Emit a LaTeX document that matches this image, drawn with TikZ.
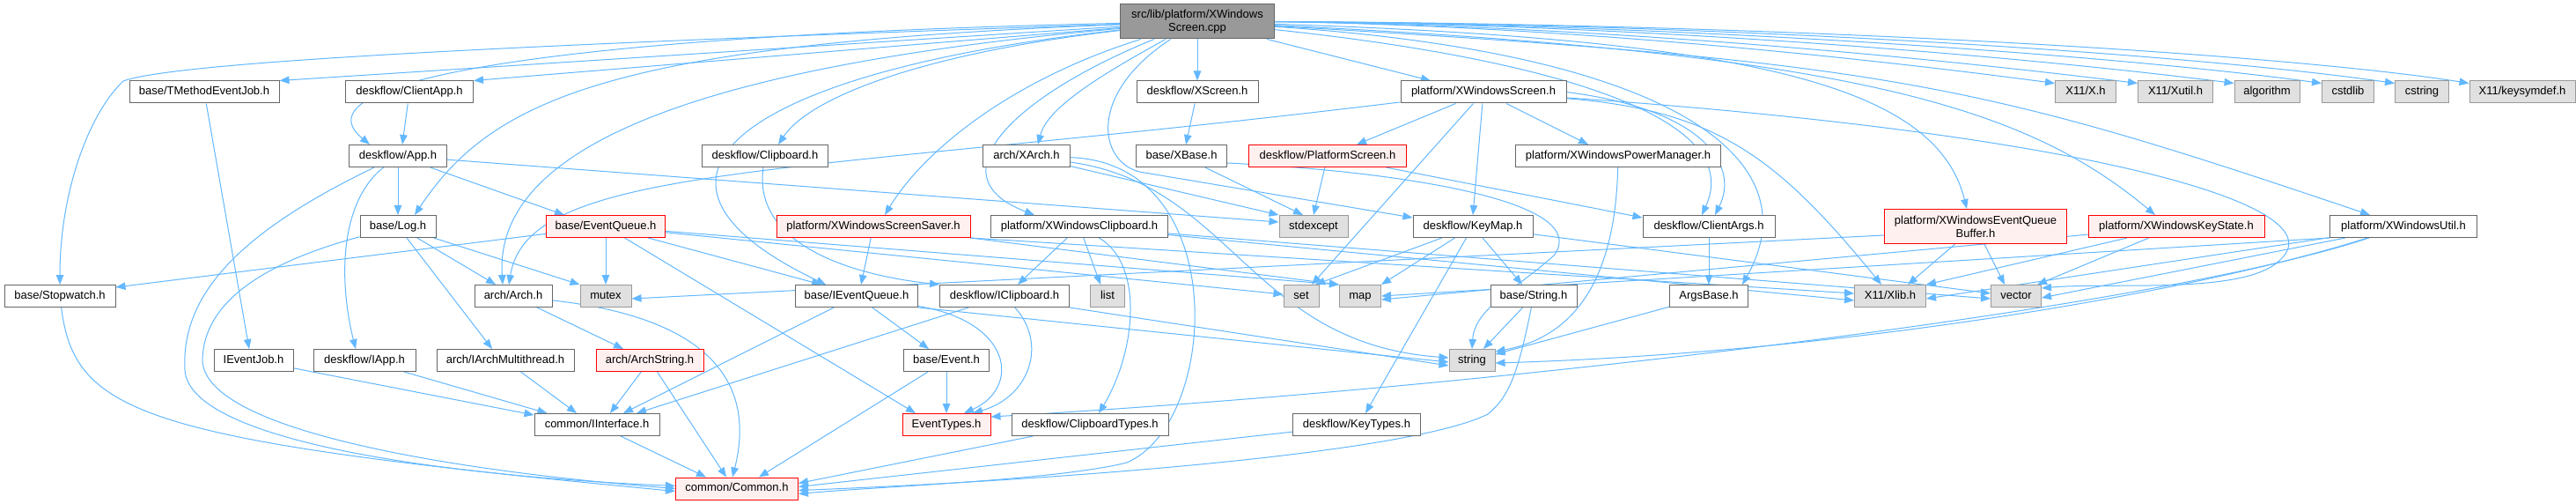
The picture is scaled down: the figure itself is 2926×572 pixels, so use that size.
\documentclass[tikz,border=0pt]{standalone}
\usepackage{fontspec}
\setmainfont{Liberation Sans}
\usetikzlibrary{arrows.meta,backgrounds}
\definecolor{EdgeBlue}{HTML}{63B8FF}
\definecolor{HdrBorder}{HTML}{666666}
\definecolor{SrcFill}{HTML}{999999}
\definecolor{SysFill}{HTML}{E0E0E0}
\definecolor{SysBorder}{HTML}{999999}
\definecolor{RedFill}{HTML}{FFF0F0}
\definecolor{RedBorder}{HTML}{FF0000}
\newcommand{\incfont}{\fontsize{13}{15}\selectfont}
\tikzset{
  hbox/.style={draw=HdrBorder, fill=white, line width=1pt, inner sep=0pt,
               minimum height=25pt, font=\incfont},
  hdr/.style={hbox, text height=9.5pt, text depth=3pt},
  syshdr/.style={hdr, draw=SysBorder, fill=SysFill},
  redhdr/.style={hdr, draw=RedBorder, fill=RedFill},
  incl/.style={color=EdgeBlue, line width=1pt, -{Triangle[length=11pt,width=8.5pt]}},
}

\begin{document}
\begin{tikzpicture}[x=1pt,y=-1pt]
  \useasboundingbox (0,0) rectangle (2926,572);
  \node[hbox, fill=SrcFill, minimum width=175pt, minimum height=39pt, align=center]
        (cpp) at (1360,24.5) {src/lib/platform/XWindows\\Screen.cpp};

  \node[hdr, minimum width=170pt] (tmej) at (232,104.5) {base/TMethodEventJob.h};
  \node[hdr, minimum width=145pt] (clientapp) at (465,104.5) {deskflow/ClientApp.h};
  \node[hdr, minimum width=138pt] (xscreen) at (1360,104.5) {deskflow/XScreen.h};
  \node[hdr, minimum width=188pt] (xwscreen) at (1685,104.5) {platform/XWindowsScreen.h};
  \node[syshdr, minimum width=69pt] (xh) at (2369,104.5) {X11/X.h};
  \node[syshdr, minimum width=85pt] (xutil) at (2471,104.5) {X11/Xutil.h};
  \node[syshdr, minimum width=74pt] (algorithm) at (2575,104.5) {algorithm};
  \node[syshdr, minimum width=59pt] (cstdlib) at (2667,104.5) {cstdlib};
  \node[syshdr, minimum width=61pt] (cstring) at (2751,104.5) {cstring};
  \node[syshdr, minimum width=120pt] (keysymdef) at (2865,104.5) {X11/keysymdef.h};

  \node[hdr, minimum width=111pt] (app) at (452,177) {deskflow/App.h};
  \node[hdr, minimum width=143pt] (clipboard) at (869,177) {deskflow/Clipboard.h};
  \node[hdr, minimum width=99pt] (xarch) at (1166,177) {arch/XArch.h};
  \node[hdr, minimum width=103pt] (xbase) at (1342,177) {base/XBase.h};
  \node[redhdr, minimum width=179pt] (platscreen) at (1508,177) {deskflow/PlatformScreen.h};
  \node[hdr, minimum width=233pt] (powermgr) at (1838,177) {platform/XWindowsPowerManager.h};

  \node[hdr, minimum width=86pt] (log) at (452,257) {base/Log.h};
  \node[redhdr, minimum width=135pt] (eventqueue) at (688,257) {base/EventQueue.h};
  \node[redhdr, minimum width=220pt] (screensaver) at (992,257) {platform/XWindowsScreenSaver.h};
  \node[hdr, minimum width=201pt] (xwclip) at (1226,257) {platform/XWindowsClipboard.h};
  \node[syshdr, minimum width=78pt] (stdexcept) at (1492,257) {stdexcept};
  \node[hdr, minimum width=136pt] (keymap) at (1673,257) {deskflow/KeyMap.h};
  \node[hdr, minimum width=150pt] (clientargs) at (1941,257) {deskflow/ClientArgs.h};
  \node[hbox, draw=RedBorder, fill=RedFill, minimum width=207pt, minimum height=39pt,
        align=center] (eqbuffer) at (2244,257) {platform/XWindowsEventQueue\\Buffer.h};
  \node[redhdr, minimum width=200pt] (keystate) at (2472,257) {platform/XWindowsKeyState.h};
  \node[hdr, minimum width=167pt] (xwutil) at (2730,257) {platform/XWindowsUtil.h};

  \node[hdr, minimum width=126pt] (stopwatch) at (68,336) {base/Stopwatch.h};
  \node[hdr, minimum width=88pt] (arch) at (583,336) {arch/Arch.h};
  \node[syshdr, minimum width=58pt] (mutex) at (688,336) {mutex};
  \node[hdr, minimum width=139pt] (ieventqueue) at (973,336) {base/IEventQueue.h};
  \node[hdr, minimum width=147pt] (iclipboard) at (1141,336) {deskflow/IClipboard.h};
  \node[syshdr, minimum width=39pt] (list) at (1258,336) {list};
  \node[syshdr, minimum width=40pt] (set) at (1478,336) {set};
  \node[syshdr, minimum width=47pt] (map) at (1545,336) {map};
  \node[hdr, minimum width=98pt] (strh) at (1742,336) {base/String.h};
  \node[hdr, minimum width=89pt] (argsbase) at (1941,336) {ArgsBase.h};
  \node[syshdr, minimum width=81pt] (xlib) at (2147,336) {X11/Xlib.h};
  \node[syshdr, minimum width=57pt] (vector) at (2290,336) {vector};

  \node[hdr, minimum width=90pt] (ieventjob) at (288,409) {IEventJob.h};
  \node[hdr, minimum width=116pt] (iapp) at (414,409) {deskflow/IApp.h};
  \node[hdr, minimum width=156pt] (iarchmt) at (574,409) {arch/IArchMultithread.h};
  \node[redhdr, minimum width=122pt] (archstring) at (738,409) {arch/ArchString.h};
  \node[hdr, minimum width=97pt] (event) at (1075,409) {base/Event.h};
  \node[syshdr, minimum width=52pt] (string) at (1672,409) {string};

  \node[hdr, minimum width=142pt] (iinterface) at (678,482) {common/IInterface.h};
  \node[redhdr, minimum width=100pt] (eventtypes) at (1075,482) {EventTypes.h};
  \node[hdr, minimum width=178pt] (cliptypes) at (1238,482) {deskflow/ClipboardTypes.h};
  \node[hdr, minimum width=145pt] (keytypes) at (1541,482) {deskflow/KeyTypes.h};

  \node[redhdr, minimum width=139pt] (common) at (837,554.5) {common/Common.h};

  \begin{scope}[on background layer]
  \fill[white] (0,0) rectangle (2926,572);
  \draw[incl] (cpp) -- (tmej.north east);
  \draw[incl] (cpp) -- (clientapp.north east);
  \draw[incl] (cpp) .. controls (640,40) and (330,90) .. ([xshift=-32pt]app.north);
  \draw[incl] (cpp) .. controls (700,50) and (560,110) .. ([xshift=19pt]log.north);
  \draw[incl] (cpp) .. controls (600,50) and (200,70) .. (140,92)
              .. controls (100,130) and (68,220) .. (stopwatch);
  \draw[incl] (cpp) .. controls (850,70) and (560,150) .. ([xshift=-12pt]arch.north);
  \draw[incl] (cpp) .. controls (1050,60) and (920,110) .. ([xshift=15pt]clipboard.north);
  \draw[incl] (cpp) .. controls (850,80) and (680,200) .. ([xshift=-35pt]ieventqueue.north);
  \draw[incl] (cpp) .. controls (1150,90) and (1050,170) .. ([xshift=13pt]screensaver.north);
  \draw[incl] (cpp) .. controls (1150,110) and (1060,200) .. ([xshift=-51pt]xwclip.north);
  \draw[incl] (cpp) .. controls (1260,80) and (1190,120) .. ([xshift=13pt]xarch.north);
  \draw[incl] (cpp) -- (xscreen);
  \draw[incl] (cpp) -- ([xshift=-60pt]xwscreen.north);
  \draw[incl] (cpp) .. controls (1230,110) and (1250,190) .. (1300,196)
              -- ([yshift=-3pt]keymap.north west);
  \draw[incl] (cpp) .. controls (1700,60) and (1990,120) .. ([xshift=-8pt]clientargs.north);
  \draw[incl] (cpp) .. controls (1900,60) and (2060,180) .. ([xshift=-7pt]argsbase.north east);
  \draw[incl] (cpp) .. controls (2000,45) and (2200,100) .. ([xshift=-10pt]eqbuffer.north);
  \draw[incl] (cpp) .. controls (2100,60) and (2300,120) .. ([xshift=-24pt]keystate.north);
  \draw[incl] (cpp) .. controls (2150,70) and (2250,95) .. ([xshift=-38pt]xwutil.north);
  \draw[incl] (cpp.east) .. controls (1800,30) and (2150,70) .. ([yshift=-3pt]xh.north west);
  \draw[incl] (cpp.east) .. controls (1850,30) and (2230,70) .. ([yshift=-3pt]xutil.north west);
  \draw[incl] (cpp.east) .. controls (1900,28) and (2330,68) .. ([yshift=-3pt]algorithm.north west);
  \draw[incl] (cpp.east) .. controls (1950,28) and (2430,66) .. ([yshift=-3pt]cstdlib.north west);
  \draw[incl] (cpp.east) .. controls (2000,27) and (2510,64) .. ([yshift=-3pt]cstring.north west);
  \draw[incl] (cpp.east) .. controls (2050,27) and (2600,62) .. ([yshift=-3pt]keysymdef.north west);

  \draw[incl] (tmej) -- ([xshift=-5pt]ieventjob.north);
  \draw[incl] (clientapp) -- ([xshift=5pt]app.north);
  \draw[incl] (app) -- (log);
  \draw[incl] (app) -- ([xshift=-47pt]eventqueue.north);
  \draw[incl] (app) .. controls (385,230) and (385,320) .. ([xshift=-10pt]iapp.north);
  \draw[incl] (app) .. controls (280,260) and (205,330) .. (210,420)
              .. controls (215,500) and (500,540) .. ([yshift=3pt]common.west);
  \draw[incl] (app) -- ([yshift=5pt]stdexcept.west);
  \draw[incl] (log) -- ([xshift=-20pt]arch.north);
  \draw[incl] (log) -- (mutex.north west);
  \draw[incl] (log) -- ([xshift=-15pt]iarchmt.north);
  \draw[incl] (log) .. controls (330,290) and (230,330) .. (230,410)
              .. controls (235,490) and (520,535) .. (common.west);
  \draw[incl] (stopwatch) .. controls (85,470) and (160,500) .. ([yshift=-3pt]common.west);
  \draw[incl] (eventqueue) -- ([yshift=-3pt]stopwatch.north east);
  \draw[incl] (eventqueue) -- (mutex);
  \draw[incl] (eventqueue) -- ([xshift=-40pt]ieventqueue.north);
  \draw[incl] (eventqueue) -- ([xshift=-35pt]eventtypes.north);
  \draw[incl] (eventqueue) -- ([yshift=2pt]set.west);
  \draw[incl] (eventqueue) -- (map.north west);
  \draw[incl] (xscreen) -- ([xshift=5pt]xbase.north);
  \draw[incl] (clipboard) .. controls (855,270) and (950,310) .. (iclipboard.north west);
  \draw[incl] (xarch) -- (stdexcept.north west);
  \draw[incl] (xarch) .. controls (1400,210) and (1420,390) .. ([yshift=3pt]string.west);
  \draw[incl] (xarch) .. controls (1400,185) and (1385,480) .. (1280,525)
              .. controls (1200,545) and (1000,552) .. ([yshift=-6pt]common.east);
  \draw[incl] (xbase) -- ([xshift=-12pt]stdexcept.north);
  \draw[incl] ([yshift=-8pt]xbase.east) .. controls (1600,195) and (1810,230) .. (1765,290)
              .. controls (1720,330) and (1675,350) .. (string.north);
  \draw[incl] (platscreen) -- (stdexcept.north);
  \draw[incl] (platscreen) -- ([yshift=-3pt]clientargs.north west);

  \draw[incl] (xwscreen) .. controls (900,200) and (600,185) .. ([xshift=-5pt]arch.north);
  \draw[incl] (xwscreen) -- ([xshift=33pt]platscreen.north);
  \draw[incl] (xwscreen) -- ([xshift=-34pt]powermgr.north);
  \draw[incl] (xwscreen) -- (keymap.north);
  \draw[incl] (xwscreen) -- ([xshift=12pt]set.north);
  \draw[incl] (xwscreen.east) .. controls (1940,125) and (1975,190) .. ([xshift=7pt]clientargs.north);
  \draw[incl] (xwscreen) .. controls (1950,125) and (2020,180) .. ([xshift=-10pt]xlib.north);
  \draw[incl] (xwscreen) .. controls (2350,150) and (2660,230) .. (2590,295)
              .. controls (2550,335) and (2400,320) .. ([yshift=-4pt]vector.north east);
  \draw[incl] (powermgr) .. controls (1835,300) and (1800,380) .. ([yshift=10pt]string.east);

  \draw[incl] (screensaver) -- ([xshift=5pt]ieventqueue.north);
  \draw[incl] (screensaver.south east) -- (map.north west);
  \draw[incl] (screensaver.south east) -- ([yshift=3pt]xlib.west);
  \draw[incl] (xwclip) -- ([xshift=15pt]iclipboard.north);
  \draw[incl] (xwclip) -- ([xshift=-8pt]list.north);
  \draw[incl] (xwclip) .. controls (1300,300) and (1290,400) .. ([xshift=10pt]cliptypes.north);
  \draw[incl] (xwclip) -- ([yshift=-5pt]xlib.west);
  \draw[incl] (xwclip) -- ([yshift=-3pt]vector.west);
  \draw[incl] (keymap) -- ([xshift=16pt]set.north);
  \draw[incl] (keymap) -- (map.north east);
  \draw[incl] (keymap) -- ([xshift=-13pt]strh.north);
  \draw[incl] (keymap) -- ([xshift=10pt]keytypes.north);
  \draw[incl] (keymap) -- ([yshift=3pt]vector.west);
  \draw[incl] (clientargs) -- (argsbase);
  \draw[incl] ([yshift=-10pt]eqbuffer.west) -- ([yshift=-3pt]mutex.east);
  \draw[incl] (eqbuffer) -- ([xshift=20pt]xlib.north);
  \draw[incl] (eqbuffer) -- ([xshift=-13pt]vector.north);
  \draw[incl] (keystate) -- (xlib.north east);
  \draw[incl] (keystate) -- ([xshift=-5pt]vector.north east);
  \draw[incl] (keystate) -- ([yshift=-4pt]map.east);
  \draw[incl] (xwutil) -- ([yshift=-3pt]xlib.east);
  \draw[incl] (xwutil) -- ([yshift=-2pt]vector.east);
  \draw[incl] (xwutil.south west) -- (map.east);
  \draw[incl] (xwutil) .. controls (2500,330) and (2100,400) .. ([yshift=-3pt]string.east);
  \draw[incl] (xwutil) .. controls (2450,350) and (1700,440) .. ([yshift=-4pt]eventtypes.north east);

  \draw[incl] (ieventqueue) -- ([xshift=-20pt]event.north);
  \draw[incl] (ieventqueue) .. controls (1150,365) and (1160,440) .. ([xshift=20pt]eventtypes.north);
  \draw[incl] (ieventqueue) -- ([xshift=30pt]iinterface.north);
  \draw[incl] (ieventqueue.south east) -- ([yshift=-2pt]string.west);
  \draw[incl] (iclipboard) .. controls (1190,390) and (1170,450) .. ([xshift=30pt]eventtypes.north);
  \draw[incl] (iclipboard) -- ([xshift=45pt]iinterface.north);
  \draw[incl] (iclipboard.south east) -- ([yshift=-6pt]string.west);
  \draw[incl] (arch) -- ([xshift=-30pt]archstring.north);
  \draw[incl] (arch) .. controls (800,360) and (860,430) .. ([xshift=-5pt]common.north);
  \draw[incl] (strh) -- ([xshift=13pt]string.north);
  \draw[incl] (strh) .. controls (1725,420) and (1715,450) .. (1690,470)
              .. controls (1600,515) and (1200,545) .. ([yshift=-2pt]common.east);
  \draw[incl] (argsbase) -- ([yshift=7pt]string.east);

  \draw[incl] (ieventjob) -- ([yshift=-2pt]iinterface.north west);
  \draw[incl] (iapp) -- ([xshift=15pt]iinterface.north west);
  \draw[incl] (iarchmt) -- ([xshift=-23pt]iinterface.north);
  \draw[incl] (archstring) -- ([xshift=15pt]iinterface.north);
  \draw[incl] (archstring) -- ([xshift=-12pt]common.north);
  \draw[incl] (event) -- (eventtypes);
  \draw[incl] (event) -- ([xshift=25pt]common.north);
  \draw[incl] (iinterface) -- ([xshift=-35pt]common.north);
  \draw[incl] (cliptypes) -- ([yshift=6pt]common.east);
  \draw[incl] (keytypes) -- ([yshift=2pt]common.east);
  \end{scope}
\end{tikzpicture}
\end{document}
